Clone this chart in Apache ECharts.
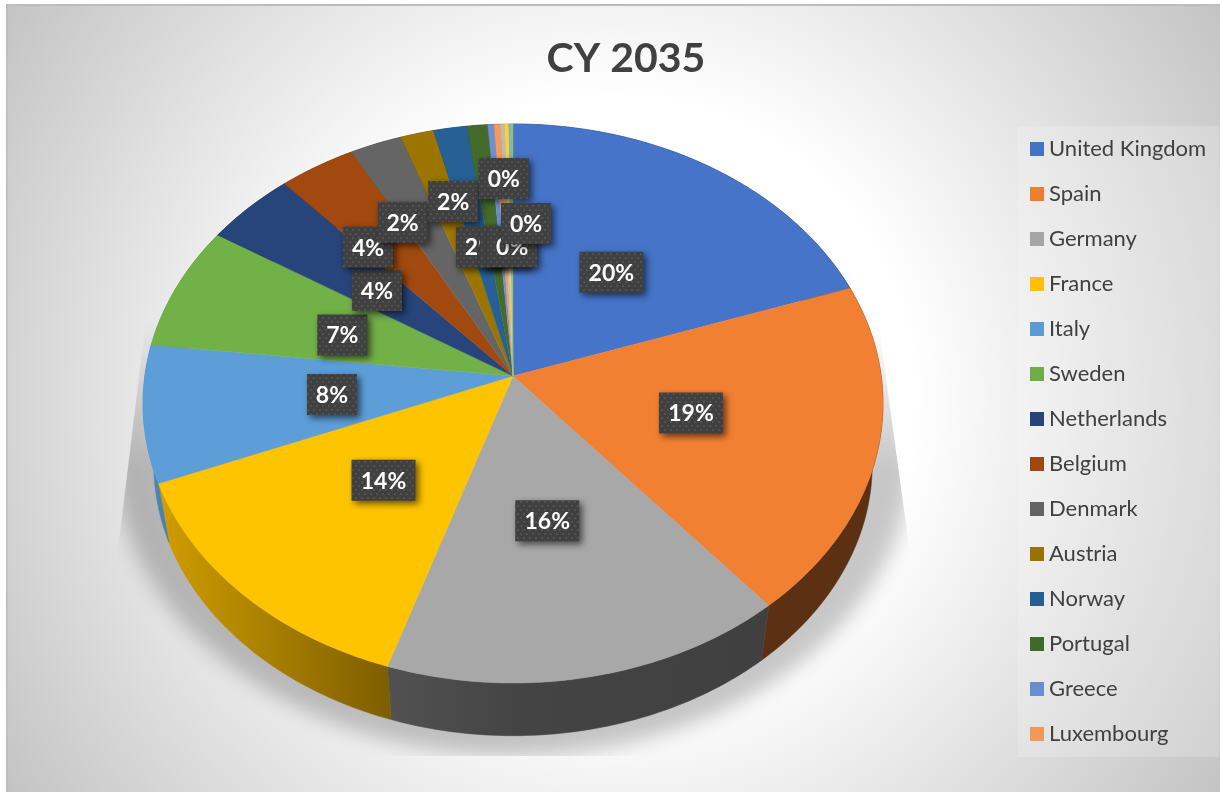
<!DOCTYPE html>
<html>
<head>
<meta charset="utf-8">
<style>html,body{margin:0;padding:0;background:#fff}#c{width:1220px;height:792px}</style>
<script src="https://cdn.jsdelivr.net/npm/echarts@6/dist/echarts.min.js"></script>
</head>
<body>
<div id="c"></div>
<script>
const chartTitle = 'CY 2035';
const categories = ['United Kingdom','Spain','Germany','France','Italy','Sweden','Netherlands','Belgium','Denmark','Austria','Norway','Portugal','Greece','Luxembourg','Other A','Other B','Other C','Other D'];
const legendCount = 14;
const shares = [19.7,19.2,16.1,13.9,7.9,7.2,4.4,3.7,2.5,1.6,1.6,1.0,0.3,0.3,0.2,0.2,0.1,0.1];
const sliceLabels = ['20%','19%','16%','14%','8%','7%','4%','4%','2%','2%','2%','0%','0%','0%','0%'];
const palette = ['#4472c4','#ed7d31','#a5a5a5','#ffc000','#5b9bd5','#70ad47','#264478','#9e480e','#636363','#997300','#255e91','#43682b','#698ed0','#f1975a','#b7b7b7','#ffcd33','#7cafdd','#8cc168'];
// label placement on the disc: fraction of radius, and degrees away from the slice's middle
const labelReach = [0.478,0.495,0.505,0.497,0.493,0.494,0.497,0.639,0.668,0.694,0.497,0.489,0.489,0.768,0.584];
const labelTurn = [0,0,0.9,0,0,-1.7,-0.4,-5.1,-4.4,2.1,0.2,3.4,3.5,0.7,5.46];

// perspective of the disc
const CX = 513, CY = 376, A = 368.2, B = 276.8, K = 0.0984;
const VY = 2500, F = 0.971;
function project(r, deg) {
  const t = deg * Math.PI / 180, u = r * Math.sin(t), v = r * Math.cos(t), w = 1 + K * v;
  return [CX + A * u / w, CY - B * v / w];
}
function drop(p) { return [CX + F * (p[0] - CX), VY + F * (p[1] - VY)]; }
function arc(a0, a1) {
  const pts = [], n = Math.max(2, Math.ceil((a1 - a0) / 1));
  for (let i = 0; i <= n; i++) pts.push(project(1, a0 + (a1 - a0) * i / n));
  return pts;
}
const total = shares.reduce((s, v) => s + v, 0);
let running = 0;
const spans = shares.map(v => { const a = running; running += v; return [a / total * 360, running / total * 360]; });

function mix(hex, f) {
  const n = parseInt(hex.slice(1), 16);
  return 'rgb(' + [(n >> 16) & 255, (n >> 8) & 255, n & 255].map(c => Math.min(255, Math.round(c * f))).join(',') + ')';
}
const light = [[150,0.88],[170,0.80],[270,0.66],[390,0.49],[520,0.41],[760,0.39],[880,0.39]];
function wallFill(hex) {
  return { type:'linear', global:true, x:150, y:0, x2:880, y2:0,
    colorStops: light.map(s => ({ offset:(s[0] - 150) / 730, color:mix(hex, s[1]) })) };
}

// dotted label fill
const tile = document.createElement('canvas'); tile.width = 6; tile.height = 8;
(function () {
  const g = tile.getContext('2d');
  g.fillStyle = '#404040'; g.fillRect(0, 0, 6, 8);
  g.fillStyle = '#525252'; g.fillRect(1, 1, 2, 2); g.fillRect(4, 5, 2, 2);
})();

// soft floor shadow
const floor = document.createElement('canvas'); floor.width = 1220; floor.height = 792;
(function () {
  const g = floor.getContext('2d');
  g.save();
  g.beginPath();
  [[146,320],[878,320],[910,553],[910,756],[117,756],[117,557]].forEach((p, i) => i ? g.lineTo(p[0], p[1]) : g.moveTo(p[0], p[1]));
  g.closePath(); g.clip();
  g.filter = 'blur(10px)';
  g.fillStyle = 'rgba(0,0,0,0.22)';
  g.beginPath(); g.ellipse(513, 450, 400, 305, 0, 0, Math.PI * 2); g.fill();
  g.restore();
  g.filter = 'none';
  g.globalCompositeOperation = 'destination-in';
  const fade = g.createLinearGradient(0, 320, 0, 470);
  fade.addColorStop(0, 'rgba(0,0,0,0)');
  fade.addColorStop(1, 'rgba(0,0,0,1)');
  g.fillStyle = fade;
  g.fillRect(0, 0, 1220, 792);
})();

function sliceRender(i) {
  return function () {
    const s = spans[i], rim = arc(s[0], s[1]), kids = [];
    const lower = rim.map(drop).reverse();
    const top = mix(palette[i], 1.02);
    kids.push({ type:'polygon', z2:1, shape:{ points:rim.concat(lower) },
      style:{ fill:wallFill(palette[i]), stroke:wallFill(palette[i]), lineWidth:0.5 } });
    kids.push({ type:'polygon', z2:2, shape:{ points:[[CX, CY]].concat(rim) },
      style:{ fill:top, stroke:top, lineWidth:0.4 } });
    if (i < sliceLabels.length) {
      const c = project(labelReach[i], (s[0] + s[1]) / 2 + labelTurn[i]);
      const w = sliceLabels[i].length > 2 ? 64 : 50, h = 41, z = 10 + i * 2;
      kids.push({ type:'rect', z2:z, shape:{ x:c[0] - w / 2, y:c[1] - h / 2, width:w, height:h },
        style:{ fill:{ image:tile, repeat:'repeat' }, shadowBlur:7, shadowOffsetX:3, shadowOffsetY:3, shadowColor:'rgba(0,0,0,0.6)' } });
      kids.push({ type:'text', z2:z + 1, x:c[0], y:c[1] + 1,
        style:{ text:sliceLabels[i], fill:'#fff', font:'bold 23px Lato, sans-serif', align:'center', verticalAlign:'middle' } });
    }
    return { type:'group', children:kids };
  };
}

const chart = echarts.init(document.getElementById('c'), null, { renderer:'canvas' });
chart.setOption({
  animation:false,
  title:{ text:chartTitle, left:621, top:33, textAlign:'center',
    textStyle:{ fontFamily:'Lato, sans-serif', fontWeight:'bold', fontSize:41, color:'#404040' } },
  legend:{ orient:'vertical', left:1030, top:137, icon:'rect', itemWidth:14, itemHeight:14, itemGap:21, padding:0,
    selectedMode:false, data:categories.slice(0, legendCount),
    textStyle:{ fontFamily:'Lato, sans-serif', fontSize:22, color:'#404040', lineHeight:24 } },
  graphic:[
    { type:'rect', silent:true, z:-5, shape:{ x:6, y:5, width:1214, height:787 },
      style:{ fill:{ type:'radial', global:true, x:613, y:398, r:770,
        colorStops:[{ offset:0, color:'#ffffff' },{ offset:0.39, color:'#ffffff' },{ offset:1, color:'#bdbdbd' }] } } },
    { type:'rect', silent:true, z:-4, shape:{ x:6, y:4, width:1214, height:2 }, style:{ fill:'#bcbcbc' } },
    { type:'rect', silent:true, z:-4, shape:{ x:6, y:4, width:1.5, height:788 }, style:{ fill:'#bcbcbc' } },
    { type:'image', silent:true, z:-3, style:{ image:floor, x:0, y:0, width:1220, height:792 } },
    { type:'rect', silent:true, z:-2, shape:{ x:1018, y:126, width:201, height:631 }, style:{ fill:'rgba(255,255,255,0.2)' } }
  ],
  series:categories.map((name, i) => ({
    type:'custom', name, coordinateSystem:'none', silent:true,
    itemStyle:{ color:palette[i] },
    data:[[shares[i]]], renderItem:sliceRender(i)
  }))
});
</script>
</body>
</html>
